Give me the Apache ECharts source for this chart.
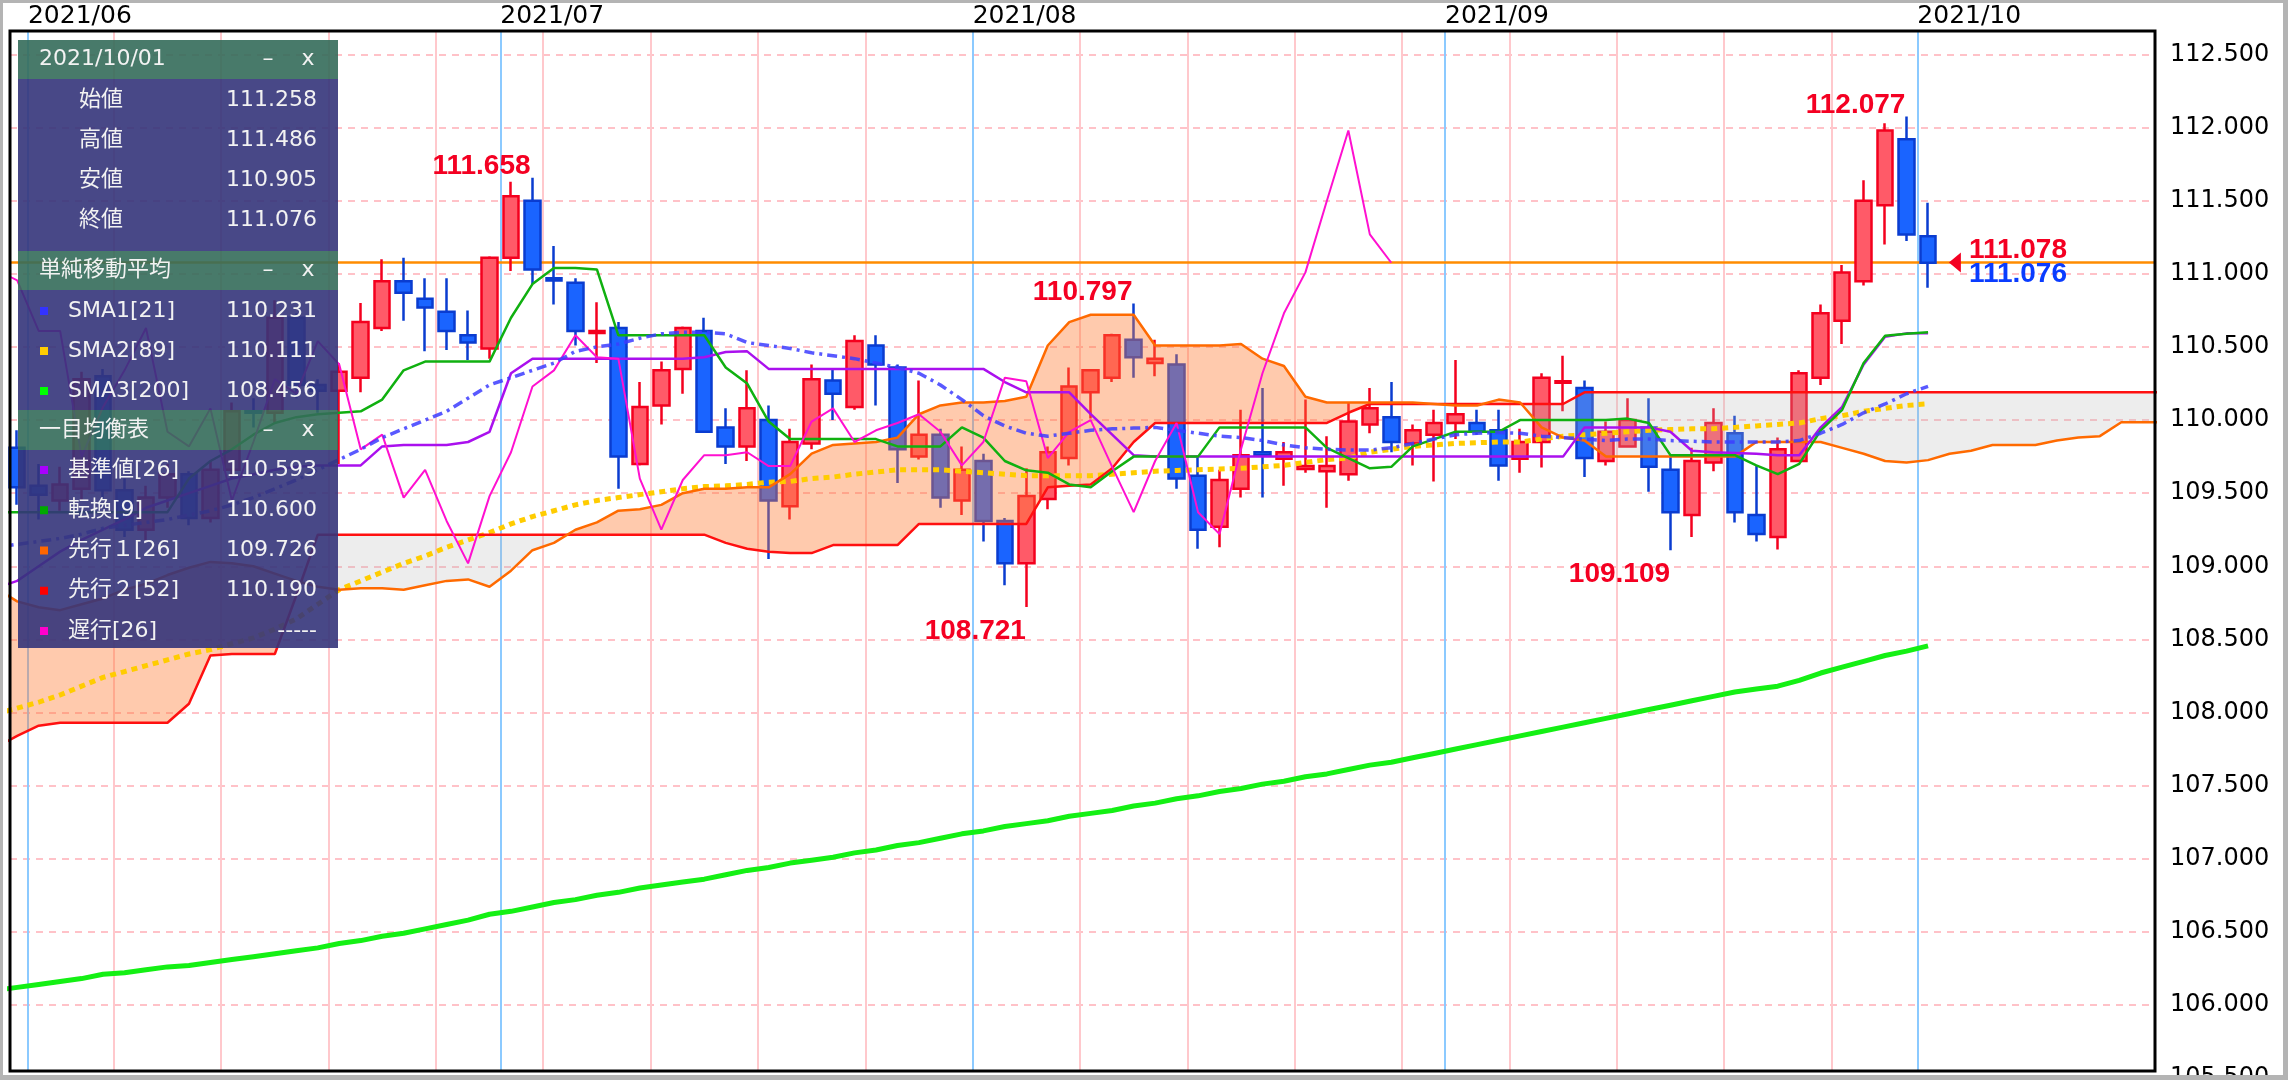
<!DOCTYPE html>
<html><head><meta charset="utf-8">
<script src="https://cdn.jsdelivr.net/npm/echarts@6/dist/echarts.min.js"></script>
<style>html,body{margin:0;padding:0;background:#fff;overflow:hidden}#c{width:2288px;height:1080px}</style>
</head><body><div id="c"></div>
<script>
// ---------------- data ----------------
const dates = ['2021/05/31','2021/06/01','2021/06/02','2021/06/03','2021/06/04','2021/06/07','2021/06/08','2021/06/09','2021/06/10','2021/06/11','2021/06/14','2021/06/15','2021/06/16','2021/06/17','2021/06/18','2021/06/21','2021/06/22','2021/06/23','2021/06/24','2021/06/25','2021/06/28','2021/06/29','2021/06/30','2021/07/01','2021/07/02','2021/07/05','2021/07/06','2021/07/07','2021/07/08','2021/07/09','2021/07/12','2021/07/13','2021/07/14','2021/07/15','2021/07/16','2021/07/19','2021/07/20','2021/07/21','2021/07/22','2021/07/23','2021/07/26','2021/07/27','2021/07/28','2021/07/29','2021/07/30','2021/08/02','2021/08/03','2021/08/04','2021/08/05','2021/08/06','2021/08/09','2021/08/10','2021/08/11','2021/08/12','2021/08/13','2021/08/16','2021/08/17','2021/08/18','2021/08/19','2021/08/20','2021/08/23','2021/08/24','2021/08/25','2021/08/26','2021/08/27','2021/08/30','2021/08/31','2021/09/01','2021/09/02','2021/09/03','2021/09/06','2021/09/07','2021/09/08','2021/09/09','2021/09/10','2021/09/13','2021/09/14','2021/09/15','2021/09/16','2021/09/17','2021/09/20','2021/09/21','2021/09/22','2021/09/23','2021/09/24','2021/09/27','2021/09/28','2021/09/29','2021/09/30','2021/10/01'];

const opens = [109.81,109.55,109.45,109.53,110.30,109.52,109.25,109.47,109.63,109.33,109.66,110.06,110.05,110.70,110.24,110.20,110.29,110.63,110.95,110.83,110.74,110.58,110.49,111.11,111.50,110.97,110.94,110.595,110.63,109.70,110.10,110.35,110.61,109.95,109.82,110.00,109.41,109.84,110.27,110.09,110.51,110.36,109.75,109.90,109.45,109.72,109.31,109.02,109.46,109.74,110.19,110.29,110.55,110.39,110.38,109.62,109.27,109.53,109.78,109.735,109.665,109.65,109.63,109.97,110.02,109.84,109.90,109.98,109.98,109.93,109.735,109.85,110.255,110.22,109.72,109.82,109.95,109.66,109.35,109.71,109.91,109.35,109.20,109.72,110.29,110.68,110.95,111.47,111.92,111.258];
const highs = [109.93,109.70,109.68,110.33,110.35,109.60,109.55,109.70,109.65,109.72,110.12,110.15,110.82,110.73,110.28,110.39,110.80,111.10,111.11,110.97,110.97,110.75,111.12,111.63,111.658,111.19,110.97,110.805,110.67,110.26,110.40,110.64,110.70,110.08,110.34,110.10,109.94,110.38,110.35,110.58,110.58,110.38,110.27,109.94,109.82,109.77,109.33,109.67,109.82,110.36,110.35,110.59,110.797,110.55,110.45,109.75,109.66,110.07,110.22,109.85,110.14,109.89,110.12,110.22,110.26,109.97,110.07,110.41,110.07,110.07,109.94,110.32,110.44,110.27,109.99,110.15,110.15,109.75,109.81,110.08,110.03,109.69,109.88,110.34,110.79,111.06,111.64,112.03,112.077,111.486];
const lows = [109.42,109.32,109.38,109.45,109.45,109.20,109.18,109.40,109.28,109.30,109.60,109.95,109.98,110.15,110.05,109.70,110.19,110.61,110.68,110.47,110.48,110.41,110.42,111.02,110.93,110.79,110.51,110.39,109.53,109.69,109.97,110.18,109.92,109.70,109.72,109.05,109.32,109.80,110.00,110.07,110.10,109.57,109.73,109.40,109.35,109.17,108.87,108.721,109.39,109.69,110.01,110.26,110.29,110.30,109.53,109.12,109.13,109.47,109.47,109.55,109.64,109.40,109.585,109.91,109.78,109.69,109.58,109.87,109.90,109.585,109.64,109.675,110.06,109.61,109.69,109.82,109.51,109.109,109.20,109.65,109.30,109.17,109.114,109.72,110.24,110.52,110.92,111.20,111.225,110.905];
const closes = [109.54,109.49,109.56,110.28,109.52,109.25,109.47,109.63,109.33,109.66,110.06,110.05,110.70,110.24,110.20,110.33,110.67,110.95,110.87,110.77,110.61,110.53,111.11,111.53,111.03,110.955,110.61,110.61,109.75,110.09,110.34,110.63,109.92,109.82,110.08,109.45,109.85,110.28,110.18,110.54,110.38,109.80,109.90,109.47,109.66,109.31,109.02,109.48,109.78,110.23,110.34,110.58,110.43,110.42,109.60,109.25,109.59,109.76,109.76,109.78,109.685,109.685,109.99,110.08,109.85,109.93,109.98,110.04,109.92,109.69,109.85,110.29,110.265,109.74,109.92,110.00,109.68,109.37,109.72,109.98,109.37,109.22,109.80,110.32,110.73,111.01,111.50,111.98,111.27,111.076];

// indicator lines start one slot before the first candle (index -1)
const lineStart = -1;
const sma1 = [109.13,109.15,109.17,109.19,109.22,109.26,109.28,109.30,109.32,109.35,109.38,109.42,109.47,109.53,109.59,109.66,109.73,109.80,109.88,109.94,110.00,110.06,110.15,110.24,110.29,110.34,110.39,110.47,110.50,110.52,110.56,110.59,110.60,110.60,110.59,110.53,110.51,110.49,110.46,110.44,110.42,110.39,110.36,110.32,110.24,110.14,110.03,109.96,109.91,109.89,109.91,109.93,109.94,109.945,109.95,109.93,109.91,109.89,109.88,109.86,109.83,109.81,109.80,109.795,109.795,109.81,109.84,109.87,109.90,109.91,109.915,109.91,109.89,109.88,109.87,109.86,109.87,109.87,109.86,109.855,109.85,109.85,109.85,109.85,109.86,109.91,109.97,110.05,110.11,110.18,110.231];
const sma2 = [107.99,108.03,108.07,108.12,108.18,108.24,108.28,108.32,108.36,108.40,108.43,108.47,108.51,108.57,108.64,108.74,108.84,108.90,108.96,109.02,109.07,109.13,109.18,109.23,109.29,109.34,109.38,109.42,109.45,109.47,109.49,109.51,109.53,109.545,109.55,109.56,109.575,109.58,109.60,109.61,109.63,109.645,109.66,109.66,109.66,109.65,109.64,109.63,109.62,109.62,109.62,109.62,109.63,109.64,109.65,109.655,109.66,109.665,109.67,109.68,109.69,109.71,109.73,109.74,109.78,109.80,109.82,109.83,109.84,109.845,109.85,109.85,109.87,109.89,109.90,109.91,109.92,109.93,109.935,109.94,109.94,109.95,109.96,109.97,109.98,110.01,110.03,110.06,110.08,110.10,110.111];
const sma3 = [106.10,106.12,106.14,106.16,106.18,106.21,106.22,106.24,106.26,106.27,106.29,106.31,106.33,106.35,106.37,106.39,106.42,106.44,106.47,106.49,106.52,106.55,106.58,106.62,106.64,106.67,106.70,106.72,106.75,106.77,106.80,106.82,106.84,106.86,106.89,106.92,106.94,106.97,106.99,107.01,107.04,107.06,107.09,107.11,107.14,107.17,107.19,107.22,107.24,107.26,107.29,107.31,107.33,107.36,107.38,107.41,107.43,107.46,107.48,107.51,107.53,107.56,107.58,107.61,107.64,107.66,107.69,107.72,107.75,107.78,107.81,107.84,107.87,107.90,107.93,107.96,107.99,108.02,108.05,108.08,108.11,108.14,108.16,108.18,108.22,108.27,108.31,108.35,108.39,108.42,108.456];
const tenkan = [109.37,109.37,109.37,109.37,109.37,109.37,109.37,109.37,109.37,109.60,109.72,109.80,109.90,109.98,110.02,110.04,110.05,110.06,110.14,110.34,110.40,110.40,110.40,110.40,110.70,110.93,111.04,111.04,111.03,110.58,110.58,110.58,110.58,110.58,110.36,110.25,109.99,109.87,109.87,109.87,109.87,109.87,109.82,109.82,109.82,109.95,109.88,109.72,109.656,109.64,109.56,109.54,109.65,109.75,109.75,109.75,109.75,109.95,109.95,109.95,109.95,109.95,109.81,109.74,109.67,109.68,109.82,109.87,109.92,109.92,109.92,110.00,110.00,110.00,110.00,110.00,110.01,109.98,109.76,109.76,109.76,109.76,109.69,109.63,109.70,109.93,110.07,110.39,110.576,110.59,110.60];
const kijun = [108.85,108.90,109.00,109.10,109.18,109.25,109.32,109.40,109.45,109.50,109.55,109.60,109.63,109.66,109.68,109.69,109.69,109.69,109.82,109.83,109.83,109.83,109.85,109.92,110.32,110.42,110.42,110.42,110.42,110.42,110.42,110.42,110.42,110.43,110.465,110.47,110.35,110.35,110.35,110.35,110.35,110.35,110.35,110.35,110.35,110.35,110.35,110.26,110.19,110.19,110.19,110.04,109.90,109.76,109.75,109.75,109.75,109.75,109.75,109.75,109.75,109.75,109.75,109.75,109.75,109.75,109.75,109.75,109.75,109.75,109.75,109.75,109.75,109.75,109.95,109.95,109.95,109.95,109.92,109.79,109.78,109.775,109.77,109.76,109.76,109.95,110.09,110.38,110.57,110.593,110.593];
// leading spans run 11 slots past the last candle (index -1 .. 100)
const senkouA = [108.85,108.76,108.72,108.70,108.74,108.78,108.84,108.88,108.94,108.99,109.03,109.02,109.00,108.95,108.90,108.86,108.84,108.85,108.85,108.84,108.87,108.90,108.91,108.86,108.97,109.11,109.16,109.25,109.30,109.38,109.39,109.42,109.50,109.53,109.53,109.54,109.54,109.63,109.77,109.83,109.84,109.85,109.88,110.04,110.10,110.12,110.12,110.13,110.16,110.51,110.67,110.72,110.72,110.72,110.51,110.51,110.51,110.51,110.52,110.42,110.37,110.16,110.12,110.12,110.12,110.12,110.12,110.11,110.10,110.10,110.14,110.12,109.95,109.88,109.86,109.75,109.75,109.75,109.75,109.75,109.75,109.75,109.85,109.85,109.85,109.85,109.81,109.77,109.72,109.71,109.726,109.77,109.79,109.83,109.83,109.83,109.86,109.88,109.89,109.985,109.985,109.985];
const senkouB = [107.76,107.84,107.91,107.93,107.93,107.93,107.93,107.93,107.93,108.06,108.39,108.40,108.40,108.40,108.80,109.216,109.216,109.216,109.216,109.216,109.216,109.216,109.216,109.216,109.216,109.216,109.216,109.216,109.216,109.216,109.216,109.216,109.216,109.216,109.16,109.12,109.10,109.09,109.09,109.145,109.145,109.145,109.145,109.29,109.29,109.29,109.29,109.29,109.29,109.54,109.55,109.56,109.67,109.85,109.98,109.98,109.98,109.98,109.98,109.98,109.98,109.98,109.98,110.05,110.11,110.11,110.11,110.11,110.11,110.11,110.11,110.11,110.11,110.11,110.19,110.19,110.19,110.19,110.19,110.19,110.19,110.19,110.19,110.19,110.19,110.19,110.19,110.19,110.19,110.19,110.19,110.19,110.19,110.19,110.19,110.19,110.19,110.19,110.19,110.19,110.19,110.19];
// lagging span: closes plotted 25 slots back (index -1 .. 64)
const chikou = [111.03,110.955,110.61,110.61,109.75,110.09,110.34,110.63,109.92,109.82,110.08,109.45,109.85,110.28,110.18,110.54,110.38,109.80,109.90,109.47,109.66,109.31,109.02,109.48,109.78,110.23,110.34,110.58,110.43,110.42,109.60,109.25,109.59,109.76,109.76,109.78,109.685,109.685,109.99,110.08,109.85,109.93,109.98,110.04,109.92,109.69,109.85,110.29,110.265,109.74,109.92,110.00,109.68,109.37,109.72,109.98,109.37,109.22,109.80,110.32,110.73,111.01,111.50,111.98,111.27,111.076];

const lastPrice = 111.076;
const extremaIdx = [24, 52, 88, 47, 77];
const extremaVal = [111.658, 110.797, 112.077, 108.721, 109.109];
const extremaKind = ['high', 'high', 'high', 'low', 'low'];
const quoteIdx = 90.25;
const quoteVals = ['111.078', '111.076'];
const clippedTick = 105.5; // tick just below the visible range, shown cut off at the bottom edge

const panelDate = '2021/10/01';
const ohlcNames = ['始値', '高値', '安値', '終値'];
const ohlcVals = ['111.258', '111.486', '110.905', '111.076'];
const smaTitle = '単純移動平均';
const smaNames = ['SMA1[21]', 'SMA2[89]', 'SMA3[200]'];
const smaVals = ['110.231', '110.111', '108.456'];
const ichiTitle = '一目均衡表';
const ichiNames = ['基準値[26]', '転換[9]', '先行１[26]', '先行２[52]', '遅行[26]'];
const ichiVals = ['110.593', '110.600', '109.726', '110.190', '-----'];

// ---------------- helpers ----------------
const pairs = (arr, start) => arr.map((v, k) => [k + start, v]);
const weekLines = [], monthLines = [0.5];
dates.forEach((d, i) => {
  if (i === 0) return;
  const prev = dates[i - 1];
  if (d.slice(5, 7) !== prev.slice(5, 7)) monthLines.push(i - 0.5);
  else if (new Date(d).getDay() === 1) weekLines.push(i - 0.5);
});
const monthSet = Array.from(new Set(monthLines)).sort((a, b) => a - b);

function kumoRuns() {
  const runs = [];
  let cur = null, prevSign = 1;
  for (let k = 0; k < senkouA.length; k++) {
    const x = k + lineStart, a = senkouA[k], b = senkouB[k];
    const d = a - b;
    const s = d > 0 ? 1 : d < 0 ? -1 : prevSign;
    if (cur && s !== cur.sign) {
      const pa = senkouA[k - 1], pb = senkouB[k - 1], pd = pa - pb;
      const t = pd / (pd - d);
      const xc = x - 1 + t, yc = pa + t * (a - pa);
      cur.top.push([xc, yc]); cur.bot.push([xc, yc]);
      runs.push(cur);
      cur = { sign: s, top: [[xc, yc]], bot: [[xc, yc]] };
    }
    if (!cur) cur = { sign: s, top: [], bot: [] };
    cur.top.push([x, a]); cur.bot.push([x, b]);
    prevSign = s;
  }
  runs.push(cur);
  return runs;
}

// ---------------- chart ----------------
const chart = echarts.init(document.getElementById('c'), null, { width: 2288, height: 1080 });
const X0 = -0.335, X1 = 99.57, Y0 = 105.548, Y1 = 112.661;
const FONT = '"DejaVu Sans", "Noto Sans CJK JP", sans-serif';
const panelFont = '22px "DejaVu Sans", "Noto Sans CJK JP", sans-serif';
const BOLD = '"Liberation Sans", Arial, sans-serif';

const lineSeries = (name, arr, start, style, z) => ({
  type: 'line', name, data: pairs(arr, start), showSymbol: false, symbol: 'none',
  silent: true, z, lineStyle: style, clip: true
});

// panel graphics
const PX = 18, PW = 320;
const g = [];
const rect = (y, h, fill) => g.push({ type: 'rect', z: 100, silent: true, shape: { x: PX, y, width: PW, height: h }, style: { fill } });
const txt = (text, x, y, align, fill) => g.push({ type: 'text', z: 101, silent: true, style: { text, x, y, fill: fill || '#f2f2f2', font: panelFont, textAlign: align, textVerticalAlign: 'middle', verticalAlign: 'middle' } });
const HEAD = 'rgba(52,108,90,0.9)', BODY = 'rgba(52,52,122,0.9)';
rect(40, 39, HEAD); rect(79, 172, BODY); rect(251, 39, HEAD); rect(290, 120, BODY); rect(410, 40, HEAD); rect(450, 198, BODY);
[[panelDate, 59.5], [smaTitle, 270.5], [ichiTitle, 430]].forEach(([t, y]) => {
  txt(t, 39, y, 'left'); txt('–', 268, y, 'center'); txt('x', 308, y, 'center');
});
ohlcNames.forEach((n, k) => { const y = 100 + 40 * k; txt(n, 79, y, 'left'); txt(ohlcVals[k], 317, y, 'right'); });
const smaColors = ['#3333ff', '#ffcc00', '#00ff00'];
smaNames.forEach((n, k) => {
  const y = 311 + 40 * k;
  g.push({ type: 'rect', z: 101, silent: true, shape: { x: 40, y: y - 4, width: 8, height: 8 }, style: { fill: smaColors[k] } });
  txt(n, 68, y, 'left'); txt(smaVals[k], 317, y, 'right');
});
const ichiColors = ['#aa00ff', '#00aa00', '#ff6600', '#ff0000', '#ff00cc'];
ichiNames.forEach((n, k) => {
  const y = 470 + 40.25 * k;
  g.push({ type: 'rect', z: 101, silent: true, shape: { x: 40, y: y - 4, width: 8, height: 8 }, style: { fill: ichiColors[k] } });
  txt(n, 68, y, 'left'); txt(ichiVals[k], 317, y, 'right');
});
// plot frame and outer frame
g.push({ type: 'rect', z: 60, silent: true, shape: { x: 10, y: 31, width: 2145, height: 1040 }, style: { fill: 'none', stroke: '#000', lineWidth: 3 } });
g.push({ type: 'rect', z: 60, silent: true, shape: { x: 0, y: 0, width: 2288, height: 3 }, style: { fill: '#b4b4b4' } });
g.push({ type: 'rect', z: 60, silent: true, shape: { x: 0, y: 0, width: 3, height: 1080 }, style: { fill: '#b4b4b4' } });
g.push({ type: 'rect', z: 60, silent: true, shape: { x: 2283, y: 0, width: 5, height: 1080 }, style: { fill: '#b4b4b4' } });
g.push({ type: 'rect', z: 60, silent: true, shape: { x: 0, y: 1075, width: 2288, height: 5 }, style: { fill: '#b4b4b4' } });

const option = {
  animation: false,
  backgroundColor: '#ffffff',
  grid: { left: 10, top: 31, right: 133, bottom: 9, show: false },
  xAxis: {
    type: 'value', position: 'top', min: X0, max: X1,
    axisLine: { show: false }, axisTick: { show: false }, splitLine: { show: false },
    axisLabel: {
      show: true, customValues: monthSet, align: 'left', margin: 2,
      fontFamily: FONT, fontSize: 25, color: '#000',
      formatter: v => { const d = dates[Math.round(v + 0.5)]; return d ? d.slice(0, 7) : ''; }
    }
  },
  yAxis: {
    type: 'value', position: 'right', min: Y0, max: Y1, splitNumber: 14,
    axisLine: { show: false }, axisTick: { show: false },
    axisLabel: { margin: 15, fontFamily: FONT, fontSize: 24, color: '#000', showMinLabel: false, showMaxLabel: false, formatter: v => v.toFixed(3) },
    splitLine: { show: true, lineStyle: { color: '#ffc2c8', width: 2, type: [7, 6] } }
  },
  graphic: g,
  series: [
    {
      type: 'line', name: 'grid-lines', data: [[X0, Y0]], symbol: 'none', silent: true, z: 1,
      lineStyle: { opacity: 0 },
      markLine: {
        silent: true, z: 1, symbol: ['none', 'none'], label: { show: false }, animation: false,
        data: weekLines.map(v => ({ xAxis: v, lineStyle: { color: '#ffc8cc', width: 2, type: 'solid' } }))
          .concat(monthSet.map(v => ({ xAxis: v, lineStyle: { color: '#8ccaff', width: 2, type: 'solid' } })))
          .concat([{ yAxis: lastPrice, lineStyle: { color: '#ff8c00', width: 2.5, type: 'solid' } }])
      }
    },
    {
      type: 'candlestick', name: 'USDJPY', z: 2, clip: true, silent: true,
      data: dates.map((d, i) => [i, opens[i], closes[i], lows[i], highs[i]]),
      encode: { x: 0, y: [1, 2, 3, 4] },
      barWidth: 16,
      itemStyle: { color: '#ff5a68', color0: '#1a64ff', borderColor: '#f4001e', borderColor0: '#0a3cd0', borderWidth: 2.5 },
      markPoint: {
        silent: true, z: 6, symbol: 'circle', symbolSize: 0, animation: false,
        itemStyle: { opacity: 1 },
        label: { show: true, position: 'inside', color: '#f40022', fontFamily: BOLD, fontWeight: 'bold', fontSize: 28 },
        data: extremaIdx.map((ix, k) => ({
          coord: [ix, extremaVal[k]], value: extremaVal[k].toFixed(3),
          label: { offset: extremaKind[k] === 'high' ? [-51, -11] : [-51, 24] }
        }))
      }
    },
    {
      type: 'custom', name: 'kumo', z: 3, clip: true, silent: true,
      data: [[0, 110]], encode: { x: 0, y: 1 },
      renderItem: (params, api) => ({
        type: 'group',
        children: kumoRuns().map(r => ({
          type: 'polygon',
          shape: { points: r.top.concat(r.bot.slice().reverse()).map(p => api.coord(p)) },
          style: { fill: r.sign > 0 ? 'rgba(255,122,50,0.4)' : 'rgba(185,185,185,0.25)' }
        }))
      })
    },
    {
      // cut-off tick label just under the plot, placed through the y scale
      type: 'custom', name: 'clipped-tick', z: 7, clip: false, silent: true,
      data: [[X1, clippedTick]], encode: { x: 0, y: 1 },
      renderItem: (params, api) => {
        const p = api.coord([X1, clippedTick]);
        return { type: 'text', x: p[0] + 15, y: p[1], z2: 0, style: { text: clippedTick.toFixed(3), fill: '#000', font: '24px "DejaVu Sans", sans-serif', textAlign: 'left', textVerticalAlign: 'middle', verticalAlign: 'middle' } };
      }
    },
    lineSeries('SMA3', sma3, lineStart, { color: '#14f014', width: 5 }, 4),
    lineSeries('SMA2', sma2, lineStart, { color: '#ffcc00', width: 5, type: [6, 5] }, 4),
    lineSeries('先行2', senkouB, lineStart, { color: '#ff1010', width: 2.5 }, 4),
    lineSeries('先行1', senkouA, lineStart, { color: '#ff6a00', width: 2.5 }, 4),
    lineSeries('基準値', kijun, lineStart, { color: '#aa10ee', width: 2.5 }, 4),
    lineSeries('転換', tenkan, lineStart, { color: '#10b010', width: 2.5 }, 4),
    lineSeries('遅行', chikou, lineStart, { color: '#ff10d0', width: 2 }, 4),
    lineSeries('SMA1', sma1, lineStart, { color: '#3c3cff', width: 3.5, type: [10, 5, 3, 5], opacity: 0.85 }, 4),
    {
      type: 'scatter', name: 'quote', z: 6, silent: true,
      data: [[quoteIdx, Number(quoteVals[0])]],
      symbol: 'triangle', symbolSize: [20, 12], symbolRotate: 90,
      itemStyle: { color: '#f40022', opacity: 1 },
      label: {
        show: true, position: 'right', distance: 8, opacity: 1,
        formatter: '{a|' + quoteVals[0] + '}\n{b|' + quoteVals[1] + '}',
        rich: {
          a: { color: '#f40022', fontFamily: BOLD, fontWeight: 'bold', fontSize: 28, lineHeight: 24 },
          b: { color: '#0a3cff', fontFamily: BOLD, fontWeight: 'bold', fontSize: 28, lineHeight: 24 }
        }
      }
    }
  ]
};
chart.setOption(option);
</script>
</body></html>
